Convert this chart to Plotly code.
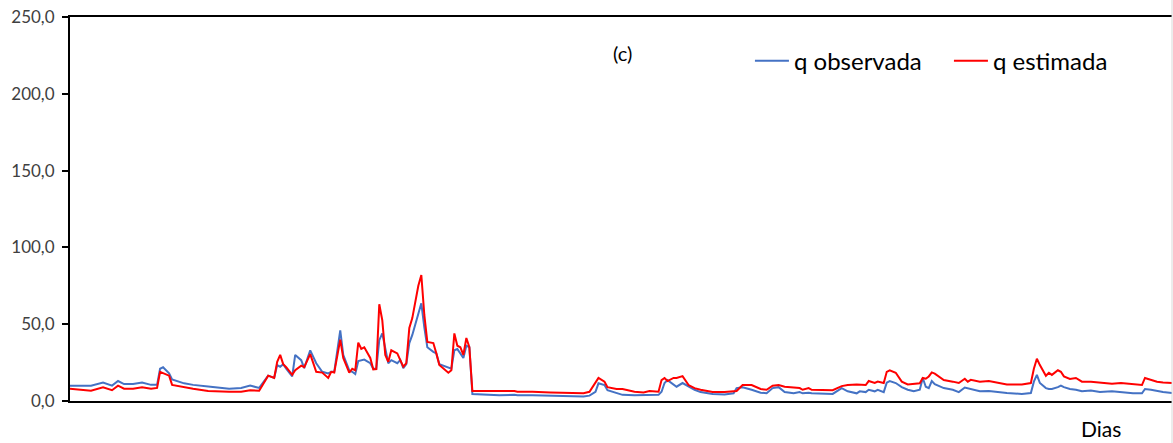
import plotly.graph_objects as go

dias = [0, 7, 11, 14, 16, 18, 21, 24, 27, 29, 30, 31, 33, 34, 38, 41, 46, 50, 53, 57,
        60, 63, 66, 68, 69, 70, 71, 72, 74, 75, 77, 78, 80, 82, 84, 86, 87, 88, 90, 91,
        93, 94, 95, 96, 97, 98, 100, 101, 102, 103, 104, 105, 106, 107, 109, 110, 111, 112, 113, 114,
        116, 117, 118, 119, 121, 122, 123, 126, 127, 128, 129, 130, 131, 132, 133, 134, 138, 143, 148, 149,
        154, 160, 166, 171, 173, 175, 176, 178, 179, 182, 184, 188, 191, 193, 196, 197, 198, 199, 201, 202,
        204, 206, 208, 210, 212, 214, 218, 221, 222, 224, 227, 230, 232, 234, 236, 238, 241, 243, 244, 246,
        247, 250, 254, 257, 259, 262, 263, 265, 266, 268, 269, 271, 272, 273, 275, 277, 279, 281, 283, 284,
        285, 286, 287, 288, 291, 294, 296, 298, 299, 300, 303, 306, 309, 312, 317, 320, 321, 322, 323, 325,
        326, 327, 329, 330, 331, 333, 335, 337, 340, 343, 347, 350, 354, 357, 358, 360, 362, 364, 367]

q_observada = [10, 10, 12, 10, 13, 11, 11, 12, 10.5, 10.5, 21, 22, 18, 14, 11.5, 10.5, 9.5, 8.5, 8, 8.5,
               10, 8.5, 16.5, 15, 23.4, 22.3, 24, 21, 16, 30, 26.6, 21.4, 33, 24.6, 19, 18, 19, 19, 46, 30,
               20, 19, 17.5, 26, 26.6, 27, 24.6, 21, 21, 39.6, 44, 33, 24.6, 26.6, 24.6, 26.6, 21.4, 24, 37.7, 43,
               57, 63.6, 48, 35, 32, 31, 24, 21.4, 21, 33, 33.8, 31, 28, 36, 35, 4.5, 4, 3.8, 4, 3.8,
               3.7, 3.5, 3.2, 3, 3.5, 6, 11.5, 10.4, 7, 5, 4, 3.8, 3.8, 3.8, 4, 6, 11.7, 13.6, 10.4, 9.3,
               11.7, 9.3, 7.3, 5.8, 5.2, 4.5, 4.2, 5, 8.4, 9, 7.3, 5.4, 5, 8.4, 9, 5.8, 5, 5.8, 5, 5.4,
               5, 5, 4.6, 8.4, 6.3, 5, 6.3, 5.8, 7.3, 6.3, 7.3, 5.8, 11.9, 13, 11.7, 9, 7.3, 6.3, 7.3, 15,
               9.3, 8.4, 13, 11, 8.4, 7.3, 5.8, 8.8, 8.4, 8, 6.3, 6.5, 5.8, 5.2, 4.6, 5.2, 12.6, 17, 11.7, 8.4,
               7.8, 7.8, 9, 10, 9, 7.8, 7.3, 6.3, 6.8, 5.8, 6.3, 5.8, 5, 5, 7.8, 7.3, 6.3, 5.8, 5.2]

q_estimada = [8, 6.7, 9, 7, 10, 8, 8, 9, 8, 8.5, 19, 18, 16.5, 10.5, 9, 8, 6.5, 6, 6, 6,
              7, 6.7, 16.5, 15, 25.5, 30, 24, 22, 17, 20, 23, 22, 30.5, 19, 18.5, 15, 19, 18.5, 40, 28,
              18.4, 21, 20, 38, 34, 35, 28, 20.6, 20.8, 63, 52.6, 30, 25.5, 33, 31, 26.6, 22.3, 24.6, 47.5, 54,
              75, 82, 56, 38.5, 37.7, 31, 23.4, 18.4, 20, 44, 36, 35, 30, 41, 35, 6.5, 6.5, 6.5, 6.5, 6,
              6, 5.5, 5, 5, 6, 11.5, 15, 12.6, 9, 7.8, 7.8, 6, 5.5, 6.5, 6, 13.6, 15, 13, 15, 15,
              16.2, 10.4, 8.4, 7.3, 6.5, 5.8, 5.8, 6, 6.5, 10.4, 10.4, 7.8, 7.3, 10, 10.4, 9.3, 8.8, 8.4, 7.3, 8.4,
              7.3, 7, 7, 9.7, 10.4, 10.8, 10.8, 10.4, 13, 11.7, 12.6, 11.7, 19, 20, 18.4, 12.6, 10.8, 11.2, 11.5, 15,
              14.5, 16, 18.6, 17.8, 13.6, 12.6, 11.7, 14.5, 12.6, 13.8, 12.6, 13, 12, 10.8, 10.8, 11.7, 21, 27.5, 23.4, 16.4,
              18.4, 17, 20, 19, 16, 14.3, 15, 12.6, 12.6, 12, 11.2, 11.7, 11.2, 10.4, 15, 13.8, 12.6, 12, 11.7]

y_ticks = [0, 50, 100, 150, 200, 250]

FONT = "Lato"
TXT = "#404040"

fig = go.Figure()
fig.add_trace(go.Scatter(x=dias, y=q_observada, mode="lines", name="q observada",
                         line=dict(color="#4472C4", width=2)))
fig.add_trace(go.Scatter(x=dias, y=q_estimada, mode="lines", name="q estimada",
                         line=dict(color="#FF0000", width=2)))

fig.update_layout(
    width=1173, height=443,
    margin=dict(l=70, r=1, t=17, b=42),
    paper_bgcolor="white", plot_bgcolor="white",
    separators=",.",
    font=dict(family=FONT, size=16, color=TXT),
    showlegend=True,
    legend=dict(orientation="h", x=0.617, y=0.885, xanchor="left", yanchor="middle",
                font=dict(family=FONT, size=24, color="#000000"),
                bgcolor="rgba(0,0,0,0)", itemwidth=34, tracegroupgap=0,
                entrywidth=150, entrywidthmode="pixels"),
    xaxis=dict(range=[0, 367], showticklabels=False, ticks="", showgrid=False,
               zeroline=False, showline=True, linecolor="black", linewidth=2, mirror=True),
    yaxis=dict(range=[0, 250], tickvals=y_ticks, tickformat=".1f", ticks="outside",
               ticklen=6, tickwidth=2, tickcolor="black", showgrid=False, zeroline=False,
               showline=True, linecolor="black", linewidth=2, ticklabelstandoff=4,
               tickfont=dict(family=FONT, size=17, color=TXT)),
    annotations=[
        dict(text="(c)", x=0.501, y=0.907, xref="paper", yref="paper", showarrow=False,
             xanchor="center", yanchor="middle", font=dict(family=FONT, size=20, color="#000000")),
        dict(text="Dias", x=0.936, y=-0.072, xref="paper", yref="paper", showarrow=False,
             xanchor="center", yanchor="middle", font=dict(family=FONT, size=21, color="#000000")),
    ],
    shapes=[dict(type="line", xref="paper", yref="paper", x0=1, x1=1, y0=-0.11, y1=1.05,
                 line=dict(color="#D9D9D9", width=1))],
)

fig.write_html("out.html")
